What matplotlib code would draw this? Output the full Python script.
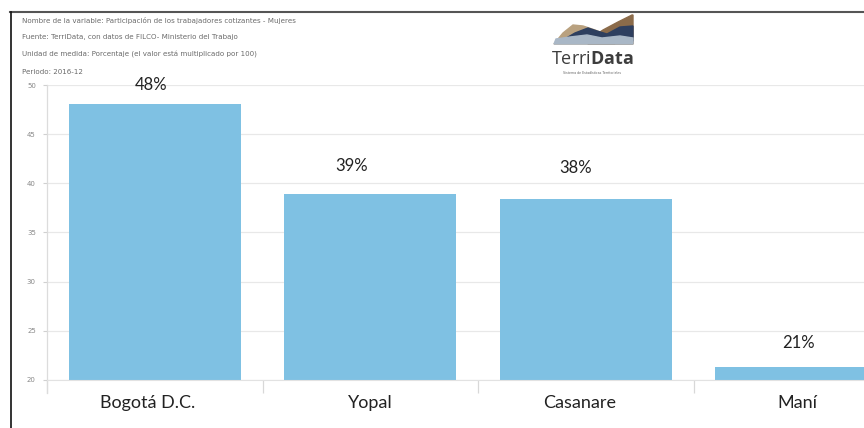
import matplotlib.pyplot as plt
from matplotlib.lines import Line2D
from matplotlib.patches import Polygon
from matplotlib.transforms import ScaledTranslation

plt.rcParams['mathtext.fontset'] = 'custom'
plt.rcParams['mathtext.rm'] = 'Open Sans'
plt.rcParams['mathtext.bf'] = 'Open Sans:bold'

# Data
categories = ['Bogotá D.C.', 'Yopal', 'Casanare', 'Maní']
values = [48.1, 38.9, 38.4, 21.3]
value_labels = ['48%', '39%', '38%', '21%']
y_ticks = [20, 25, 30, 35, 40, 45, 50]
header_lines = [
    'Nombre de la variable: Participación de los trabajadores cotizantes - Mujeres',
    'Fuente: TerriData, con datos de FILCO- Ministerio del Trabajo',
    'Unidad de medida: Porcentaje (el valor está multiplicado por 100)',
    'Periodo: 2016-12',
]

# the % labels and category names were placed by hand in the original (pixels)
label_dx = [-4, -19, -10, -3]
label_dy = [19, 28, 31, 24]
cat_dx = [-7, 0, -6, -4]

W, H = 864, 428
fig = plt.figure(figsize=(W / 100, H / 100), dpi=100)
fig.patch.set_facecolor('white')

ax = fig.add_axes([47 / W, 48 / H, 862 / W, 295 / H])
ax.bar(range(len(categories)), values, width=0.8, color='#7fc1e3', zorder=2)
ax.set_xlim(-0.5, len(categories) - 0.5)
ax.set_ylim(20, 50)

ax.set_yticks(y_ticks)
ax.tick_params(axis='y', length=3, color='#d0d0d0', labelsize=5, labelcolor='#888888', pad=5)
ax.grid(axis='y', color='#e8e8e8', lw=0.9, zorder=0)

ax.set_xticks(range(len(categories)))
ax.set_xticklabels(categories, family='Lato', fontsize=13, color='#222222')
ax.set_xticks([i - 0.5 for i in range(len(categories) + 1)], minor=True)
ax.tick_params(axis='x', which='major', length=0, pad=11)
ax.tick_params(axis='x', which='minor', length=9.5, color='#d8d8d8', width=0.9)
for lbl, dx in zip(ax.get_xticklabels(), cat_dx):
    lbl.set_transform(lbl.get_transform() + ScaledTranslation(dx / 100, 0, fig.dpi_scale_trans))

for side in ['top', 'right', 'left']:
    ax.spines[side].set_visible(False)
ax.spines['bottom'].set_color('#e2e2e2')
ax.axvline(-0.5, ymin=-0.044, ymax=1.0, color='#dcdcdc', lw=0.9, clip_on=False)

for i, v in enumerate(values):
    ax.annotate(value_labels[i], xy=(i, v), xytext=(label_dx[i], label_dy[i]),
                textcoords='offset pixels', ha='center', va='center',
                family='Lato', fontsize=12, color='#222222')

# header text
for k, line in enumerate(header_lines):
    fig.text(22 / W, 1 - (20 + 17.3 * k) / H, line, fontsize=5.1, color='#6a6a6a', va='center')

# screenshot frame
fig.add_artist(Line2D([10 / W, 1], [1 - 12 / H] * 2, color='#555555', lw=1.5))
fig.add_artist(Line2D([11 / W] * 2, [0, 1 - 12 / H], color='#111111', lw=1.2))

# TerriData logo
lg = fig.add_axes([550 / W, (H - 45) / H, 84 / W, 31 / H])
lg.set_xlim(550, 634)
lg.set_ylim(45, 14)
lg.axis('off')
lg.add_patch(Polygon([(554, 44), (563, 33), (573, 25), (583, 26), (595, 30), (610, 36),
                      (615, 44)], color='#b9a17f'))
lg.add_patch(Polygon([(588, 40), (603, 30), (618, 22), (632, 15), (633, 15), (633, 44),
                      (588, 44)], color='#8b6b4a'))
lg.add_patch(Polygon([(563, 40), (575, 33), (588, 28), (597, 31), (607, 34), (620, 27),
                      (633, 26), (633, 41), (563, 41)], color='#2e3f5f'))
lg.add_patch(Polygon([(554, 44), (556, 39), (570, 37), (587, 35), (602, 38), (620, 36),
                      (633, 38), (633, 44)], color='#a9b7c6'))
fig.text(592 / W, 1 - 59.5 / H, r'$\mathrm{Terri}\mathbf{Data}$', ha='center', va='center',
         fontsize=13, color='#3d3d3d')
fig.text(592 / W, 1 - 73 / H, 'Sistema de Estadísticas Territoriales', ha='center',
         va='center', fontsize=2.3, color='#666666')

fig.savefig('out.png', dpi=100)
